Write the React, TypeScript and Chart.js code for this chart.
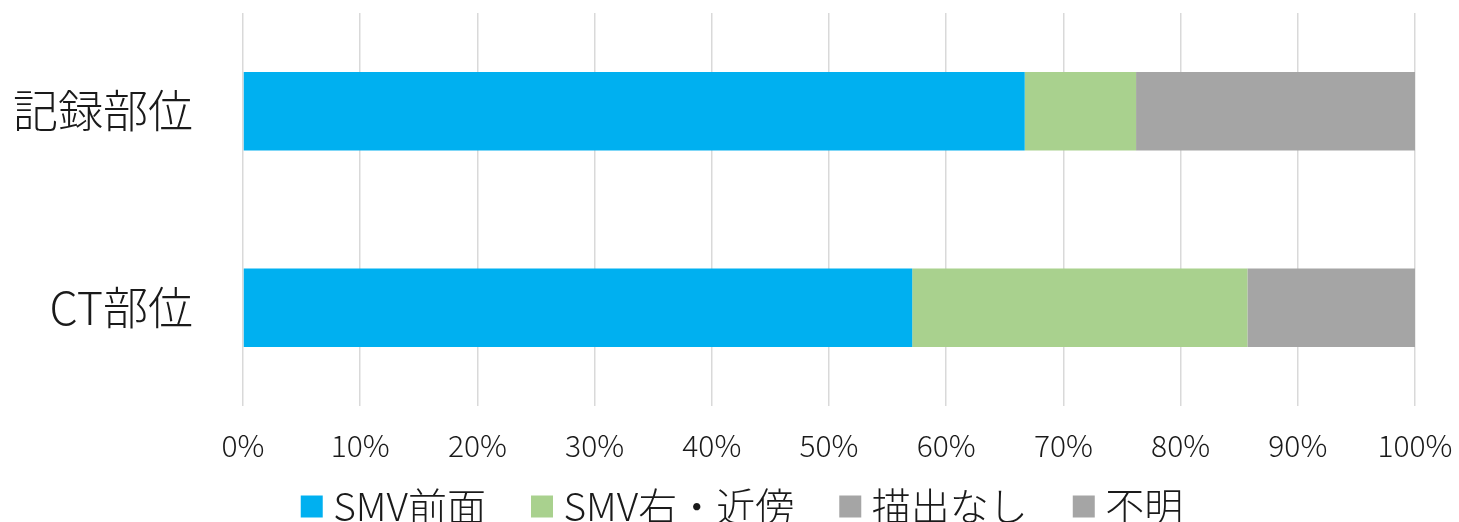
import React, { useEffect, useRef } from "react";
import { Chart, registerables } from "chart.js";

Chart.register(...registerables);

const categories = ["記録部位", "CT部位"];
const seriesNames = ["SMV前面", "SMV右・近傍", "描出なし", "不明"];
const smvFront = [66.7, 57.1];
const smvRight = [9.5, 28.6];
const notShown = [23.8, 14.3];
const unknown = [0, 0];
const seriesColors = ["#00B0F0", "#A9D18E", "#A5A5A5", "#A5A5A5"];
const xTicks = [0, 10, 20, 30, 40, 50, 60, 70, 80, 90, 100];

const FONT = "'Noto Sans CJK JP', 'Noto Sans', sans-serif";
const noClip = () => undefined;

export default function App() {
  const ref = useRef<HTMLCanvasElement | null>(null);
  useEffect(() => {
    if (!ref.current) return;
    const values = [smvFront, smvRight, notShown, unknown];
    const chart = new Chart(ref.current, {
      type: "bar",
      data: {
        labels: categories,
        datasets: seriesNames.map((name, i) => ({
          label: name,
          data: values[i],
          backgroundColor: seriesColors[i],
          borderWidth: 0,
          categoryPercentage: 1,
          barPercentage: 0.4,
        })),
      },
      options: {
        indexAxis: "y",
        responsive: false,
        maintainAspectRatio: false,
        animation: false,
        layout: { padding: { top: 13, left: 78, right: 44, bottom: -14 } },
        scales: {
          x: {
            stacked: true,
            min: 0,
            max: 100,
            afterBuildTicks: (axis: any) => {
              axis.ticks = xTicks.map((v) => ({ value: v }));
            },
            afterFit: (axis: any) => {
              axis.paddingLeft = 0;
              axis.paddingRight = 0;
              axis.height = 27;
              axis._computeLabelArea = noClip;
            },
            ticks: {
              callback: (v: any) => v + "%",
              font: { family: FONT, size: 30, weight: 300 },
              color: "#1a1a1a",
              padding: 22,
              maxRotation: 0,
            },
            grid: { color: "#D9D9D9", lineWidth: 1.5, drawTicks: false },
            border: { display: false },
          },
          y: {
            stacked: true,
            afterFit: (axis: any) => {
              axis.paddingTop = 0;
              axis.paddingBottom = 0;
              axis.width = 165;
              axis._computeLabelArea = noClip;
            },
            ticks: {
              font: { family: FONT, size: 45, weight: 300 },
              color: "#1a1a1a",
              padding: 50,
            },
            grid: { display: false, drawTicks: false },
            border: { display: false },
          },
        },
        plugins: {
          legend: {
            position: "bottom",
            labels: {
              usePointStyle: true,
              pointStyle: "rect",
              boxWidth: 4,
              boxHeight: 22,
              padding: 54,
              font: { family: FONT, size: 39, weight: 300 },
              color: "#1a1a1a",
            },
          },
          tooltip: { enabled: false },
        },
      },
    });
    return () => chart.destroy();
  }, []);
  return (
    <div style={{ position: "absolute", left: 0, top: 0, width: 1459, height: 522, background: "#fff" }}>
      <canvas ref={ref} width={1459} height={522} style={{ display: "block" }} />
    </div>
  );
}
